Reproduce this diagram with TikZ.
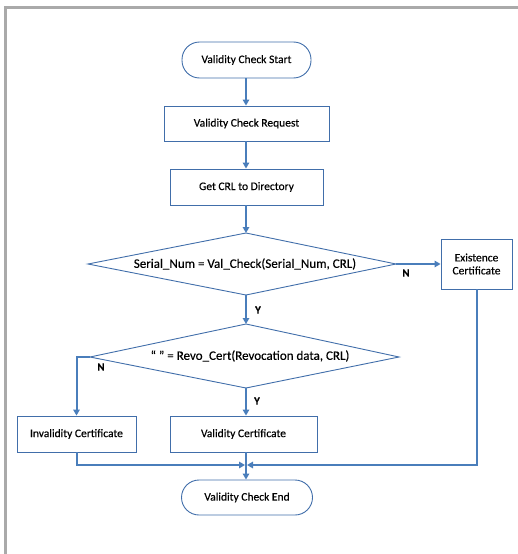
\documentclass[tikz,border=0pt]{standalone}
\usepackage{fontspec}
\setmainfont[FakeBold=0.3]{Carlito}
\usetikzlibrary{arrows.meta}
\definecolor{conn}{RGB}{74,126,187}
\definecolor{outl}{RGB}{65,110,170}
\definecolor{frame}{RGB}{170,170,170}
\begin{document}
\begin{tikzpicture}[x=1pt,y=-1pt,
  every node/.style={font=\fontsize{11.5}{13}\selectfont, inner sep=0pt},
  term/.style={draw=outl, line width=0.9pt, rounded corners=17.5pt, minimum height=36pt},
  procbox/.style={draw=outl, line width=0.9pt, minimum height=36pt},
  dtext/.style={font=\fontsize{13}{15}\selectfont},
  conline/.style={draw=conn, line width=2pt},
  arr/.style={conline, -{Triangle[length=6pt,width=6.5pt]}},
  lbl/.style={font=\fontsize{11}{13}\selectfont\bfseries}
]
\useasboundingbox (0,0) rectangle (518,554);
\draw[frame, line width=3pt] (5.5,554) -- (5.5,7) -- (518,7);

\node[term, minimum width=129pt] (start) at (246.5,60) {Validity Check Start};
\node[procbox, minimum width=165pt, minimum height=35pt] (req) at (246.5,123.5) {Validity Check Request};
\node[procbox, minimum width=153pt] (crl) at (246.5,187) {Get CRL to Directory};

% diamond 1
\coordinate (d1n) at (246,233);
\coordinate (d1e) at (396,264);
\coordinate (d1s) at (246,295);
\coordinate (d1w) at (88,264);
\draw[outl, line width=0.9pt] (d1n) -- (d1e) -- (d1s) -- (d1w) -- cycle;
\node[dtext] (d1) at (245,264) {Serial\_Num = Val\_Check(Serial\_Num, CRL)};

\node[procbox, minimum width=71pt, minimum height=50pt, align=center] (exist) at (476.5,264) {Existence\\Certificate};

% diamond 2
\coordinate (d2n) at (246,324);
\coordinate (d2e) at (399,357);
\coordinate (d2s) at (246,388);
\coordinate (d2w) at (90,357);
\draw[outl, line width=0.9pt] (d2n) -- (d2e) -- (d2s) -- (d2w) -- cycle;
\node[dtext] (d2) at (250,356) {“ ” = Revo\_Cert(Revocation data, CRL)};

\node[procbox, minimum width=119pt] (inval) at (76.5,434) {Invalidity Certificate};
\node[procbox, minimum width=147pt] (valid) at (243.5,434) {Validity Certificate};

\node[term, minimum width=131pt, minimum height=35pt] (end) at (247,497.5) {Validity Check End};

\coordinate (m) at (246,465);

% connectors
\draw[arr] (start.south -| 246,0) -- (req.north -| 246,0);
\draw[arr] (req.south -| 246,0) -- (crl.north -| 246,0);
\draw[arr] (crl.south -| d1n) -- (d1n);
\draw[arr] (d1e) -- (exist.west);
\draw[arr] (d1s) -- (d2n);
\draw[arr] (d2w) -- (d2w -| inval.north) -- (inval.north);
\draw[arr] (d2s) -- (valid.north -| d2s);
\draw[arr] (valid.south -| m) -- (end.north -| m);
\draw[arr] (inval.south) -- (inval.south |- m) -- ([xshift=-1pt]m);
\draw[arr] (exist.south) -- (exist.south |- m) -- ([xshift=1pt]m);

% labels
\node[lbl] (n1) at (406,273) {N};
\node[lbl] (y1) at (258,310) {Y};
\node[lbl] (n2) at (101,367) {N};
\node[lbl] (y2) at (257,401) {Y};
\end{tikzpicture}
\end{document}
